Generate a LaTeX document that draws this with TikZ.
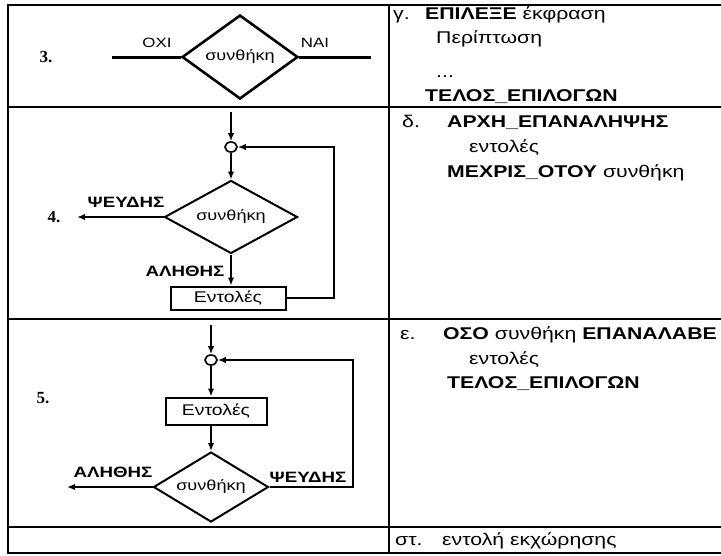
\documentclass[tikz,border=0pt]{standalone}
\usepackage{fontspec}
\setmainfont[FakeStretch=1.25]{Liberation Sans}
\newfontfamily\numfont{Liberation Serif}
\usetikzlibrary{shapes.geometric,arrows.meta}

\begin{document}
\begin{tikzpicture}[x=1pt,y=-1pt,>={Latex[length=8pt,width=6.5pt]},
	cond/.style={diamond,draw,line width=2pt,aspect=1.5,inner sep=0pt,font=\fontsize{14.5}{16}\selectfont},
	cmd/.style={rectangle,draw,line width=2pt,inner sep=0pt,font=\fontsize{15.5}{17}\selectfont},
	merge/.style={ellipse,draw,line width=1.6pt,minimum width=12pt,minimum height=10pt,inner sep=0pt},
	lbl/.style={inner sep=0pt,font=\bfseries\fontsize{15}{17}\selectfont},
	num/.style={inner sep=0pt,font=\numfont\bfseries\fontsize{17}{19}\selectfont},
	code/.style={anchor=base west,inner sep=0pt,font=\fontsize{17}{20}\selectfont},
	flow/.style={->,line width=2pt}]
	\useasboundingbox (0,0) rectangle (721,555);
	
	% table
	\draw [line width=2.4pt] (721,5) -- (8,5) -- (8,553) -- (721,553);
	\draw [line width=2.4pt] (389,5) -- (389,553);
	\foreach \y in {107,319,527}
		\draw [line width=2.4pt] (8,\y) -- (721,\y);
	
	% 3.
	\node [num] (n3) at (46,57) {3.};
	\node [cond,line width=2.6pt,minimum width=116pt,minimum height=84pt] (c3) at (240,57) {συνθήκη};
	\coordinate (l3) at (112,57);
	\coordinate (r3) at (371,57);
	\draw [line width=3pt] (l3) -- (c3.west);
	\draw [line width=3pt] (c3.east) -- (r3);
	\node [inner sep=0pt,font=\fontsize{13.5}{15}\selectfont] (no3) at (157,43) {ΟΧΙ};
	\node [inner sep=0pt,font=\fontsize{13.5}{15}\selectfont] (yes3) at (315,43) {ΝΑΙ};
	
	% 4.
	\coordinate (in4) at (231,112);
	\node [merge] (j4) at (231,147) {};
	\node [cond,minimum width=133pt,minimum height=73pt] (c4) at (231,217) {συνθήκη};
	\node [cmd,minimum width=115pt,minimum height=23pt] (b4) at (228,298) {Εντολές};
	\coordinate (out4) at (77,217);
	\coordinate (k4) at (334,147);
	\node [num] (n4) at (54,217) {4.};
	\node [lbl] (f4) at (126,202) {ΨΕΥΔΗΣ};
	\node [lbl] (t4) at (185,271) {ΑΛΗΘΗΣ};
	\draw [flow] (in4) -- (j4);
	\draw [flow] (j4) -- (c4);
	\draw [flow] (c4.west) -- (out4);
	\draw [flow] (c4.south) -- (c4.south |- b4.north);
	\draw [flow] (b4.east) -| (k4) -- (j4.east);
	
	% 5.
	\coordinate (in5) at (211,325);
	\node [merge] (j5) at (211,360) {};
	\node [cmd,minimum width=101pt,minimum height=27pt] (b5) at (216,411) {Εντολές};
	\node [cond,minimum width=115pt,minimum height=70pt] (c5) at (211,487) {συνθήκη};
	\coordinate (out5) at (67,487);
	\coordinate (k5) at (353,360);
	\node [num] (n5) at (43,398) {5.};
	\node [lbl] (t5) at (113,472) {ΑΛΗΘΗΣ};
	\node [lbl] (f5) at (308,477) {ΨΕΥΔΗΣ};
	\draw [flow] (in5) -- (j5);
	\draw [flow] (j5) -- (j5 |- b5.north);
	\draw [flow] (j5 |- b5.south) -- (c5);
	\draw [flow] (c5.west) -- (out5);
	\draw [flow] (c5.east) -| (k5) -- (j5.east);
	
	% right column
	\node [code] (g) at (393,19) {γ.};
	\node [code] (g1) at (425,19) {\textbf{ΕΠΙΛΕΞΕ} έκφραση};
	\node [code] (g2) at (436,43) {Περίπτωση};
	\node [code] (g3) at (436,77) {...};
	\node [code] (g4) at (425,101) {\textbf{ΤΕΛΟΣ\_ΕΠΙΛΟΓΩΝ}};
	
	\node [code] (d) at (402,127) {δ.};
	\node [code] (d1) at (447,127) {\textbf{ΑΡΧΗ\_ΕΠΑΝΑΛΗΨΗΣ}};
	\node [code] (d2) at (469,152) {εντολές};
	\node [code] (d3) at (447,177) {\textbf{ΜΕΧΡΙΣ\_ΟΤΟΥ} συνθήκη};
	
	\node [code] (e) at (400,339) {ε.};
	\node [code] (e1) at (443,339) {\textbf{ΟΣΟ} συνθήκη \textbf{ΕΠΑΝΑΛΑΒΕ}};
	\node [code] (e2) at (469,364) {εντολές};
	\node [code] (e3) at (447,388) {\textbf{ΤΕΛΟΣ\_ΕΠΙΛΟΓΩΝ}};
	
	\node [code] (s) at (395,545) {στ.};
	\node [code] (s1) at (442,545) {εντολή εκχώρησης};
\end{tikzpicture}
\end{document}
